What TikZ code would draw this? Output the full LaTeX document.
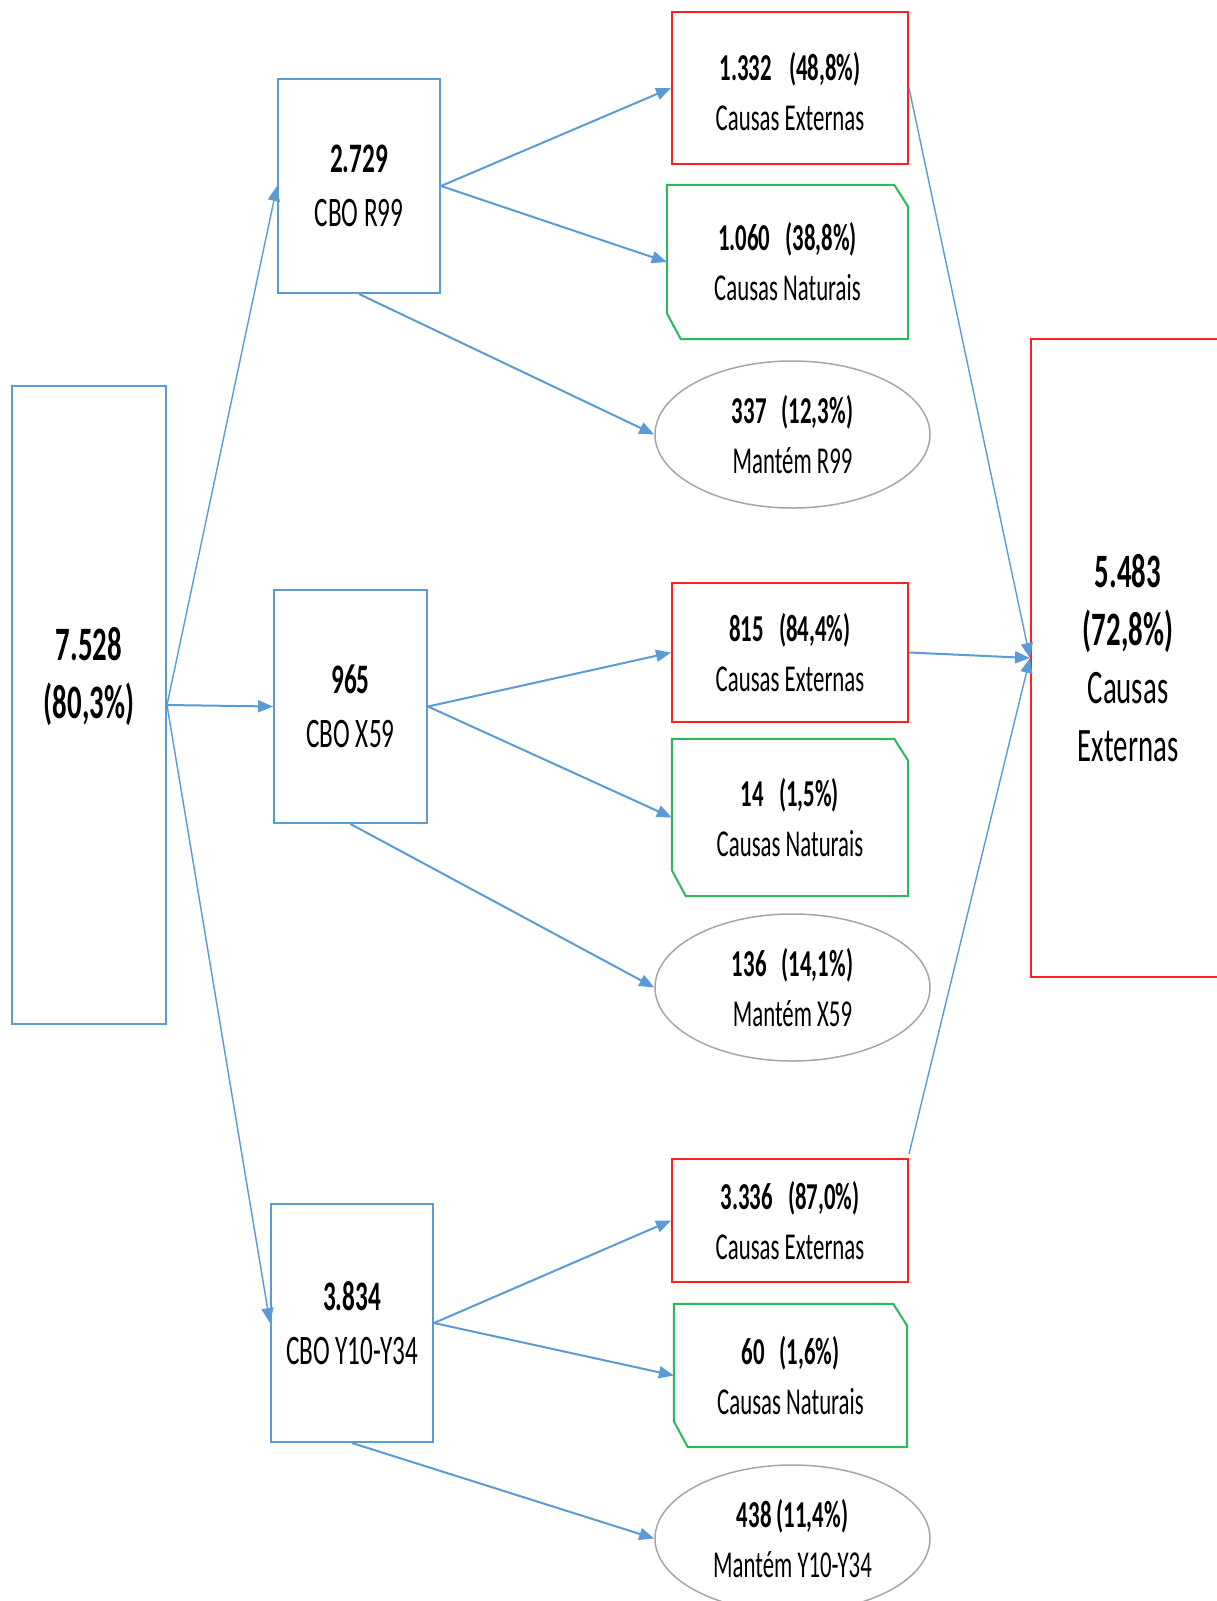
\documentclass[tikz,border=0pt]{standalone}
\usepackage{fontspec}
\setmainfont{Carlito}[FakeStretch=0.6]
\usetikzlibrary{arrows.meta,shapes.geometric,calc}
\definecolor{cblue}{HTML}{5B9BD5}
\definecolor{cred}{HTML}{FF1F1F}
\definecolor{cgreen}{HTML}{2DB85C}
\definecolor{cgrey}{HTML}{A6A6A6}
\begin{document}
\begin{tikzpicture}[x=1pt,y=-1pt,
  bluebox/.style={draw=cblue,line width=2pt,inner sep=0pt,align=center,font=\fontsize{42}{54}\selectfont},
  bigbox/.style={inner sep=0pt,align=center,font=\fontsize{48}{58}\selectfont},
  redbox/.style={draw=cred,line width=2pt,inner sep=0pt,align=center,font=\fontsize{38}{50}\selectfont},
  greenbox/.style={inner sep=0pt,align=center,font=\fontsize{38}{50}\selectfont},
  greenline/.style={draw=cgreen,line width=2pt,line join=miter},
  ell/.style={ellipse,draw=cgrey,line width=1.5pt,inner sep=0pt,minimum width=275pt,minimum height=147pt,align=center,font=\fontsize{38}{50}\selectfont},
  conn/.style={draw=cblue,line width=2pt,-{Triangle[length=15pt,width=12pt]}},
  thin/.style={draw=cblue,line width=1.4pt,-{Triangle[length=15pt,width=12pt]}}]
\useasboundingbox (0,0) rectangle (1217,1601);
\clip (0,0) rectangle (1217,1601);
\fill[white] (0,0) rectangle (1217,1601);

% left box
\node[draw=cblue,line width=2pt,minimum width=154pt,minimum height=638pt] (L) at (89,705) {};
\node[bigbox] (Lt) at (89,677) {\bfseries 7.528\\\bfseries (80,3\%)};

% CBO boxes
\node[bluebox,minimum width=162pt,minimum height=214pt] (R99) at (359,186) {\bfseries 2.729\\CBO R99};
\node[bluebox,minimum width=153pt,minimum height=233pt] (X59) at (350.5,706.5) {\bfseries 965\\CBO X59};
\node[bluebox,minimum width=162pt,minimum height=238pt] (Y10) at (352,1323) {\bfseries 3.834\\CBO Y10-Y34};

% red boxes
\node[redbox,minimum width=236pt,minimum height=152pt] (E1) at (790,88) {};
\node[redbox,draw=none] (E1t) at (790,92) {\bfseries 1.332\hspace{0.45em}(48,8\%)\\Causas Externas};
\node[redbox,minimum width=236pt,minimum height=139pt] (E2) at (790,652.5) {\bfseries 815\hspace{0.4em}(84,4\%)\\Causas Externas};
\node[redbox,minimum width=236pt,minimum height=123pt] (E3) at (790,1220.5) {\bfseries 3.336\hspace{0.4em}(87,0\%)\\Causas Externas};

% green boxes
\node[greenbox,minimum width=241pt,minimum height=154pt] (N1) at (787.5,262) {\bfseries 1.060\hspace{0.4em}(38,8\%)\\Causas Naturais};
\node[greenbox,minimum width=236pt,minimum height=157pt] (N2) at (790,817.5) {\bfseries 14\hspace{0.4em}(1,5\%)\\Causas Naturais};
\node[greenbox,minimum width=233pt,minimum height=143pt] (N3) at (790.5,1375.5) {\bfseries 60\hspace{0.4em}(1,6\%)\\Causas Naturais};
\foreach \n in {N1,N2,N3}{
  \draw[greenline] (\n.north west) -- ($(\n.north east)+(-14,0)$) -- ($(\n.north east)+(0,22)$)
    -- (\n.south east) -- ($(\n.south west)+(14,0)$) -- ($(\n.south west)+(0,-26)$) -- cycle;
}

% ellipses
\node[ell] (M1) at (792.5,434.5) {\bfseries 337\hspace{0.4em}(12,3\%)\\Mantém R99};
\node[ell] (M2) at (792.5,987.5) {\bfseries 136\hspace{0.4em}(14,1\%)\\Mantém X59};
\node[ell] (M3) at (792.5,1538.5) {\bfseries 438 (11,4\%)\\Mantém Y10-Y34};

% big right box
\node[bigbox,draw=cred,line width=2pt,minimum width=194pt,minimum height=638pt] (T) at (1128,658) {\bfseries 5.483\\\bfseries (72,8\%)\\Causas\\Externas};

% connectors
\draw[thin] (L.east) -- (R99.west);
\draw[conn] (L.east) -- (X59.west);
\draw[thin] (L.east) -- (Y10.west);

\draw[conn] (R99.east) -- (E1.west);
\draw[conn] (R99.east) -- (N1.west);
\draw[conn] (R99.south) -- (M1.west);

\draw[conn] (X59.east) -- (E2.west);
\draw[conn] (X59.east) -- (N2.west);
\draw[conn] (X59.south) -- (M2.west);

\draw[conn] (Y10.east) -- (E3.west);
\draw[conn] (Y10.east) -- (N3.west);
\draw[conn] (Y10.south) -- (M3.west);

\draw[thin] (E1.east) -- (T.west);
\draw[conn] (E2.east) -- (T.west);
\draw[thin] ($(E3.north east)+(0,-4)$) -- (T.west);
\end{tikzpicture}
\end{document}
